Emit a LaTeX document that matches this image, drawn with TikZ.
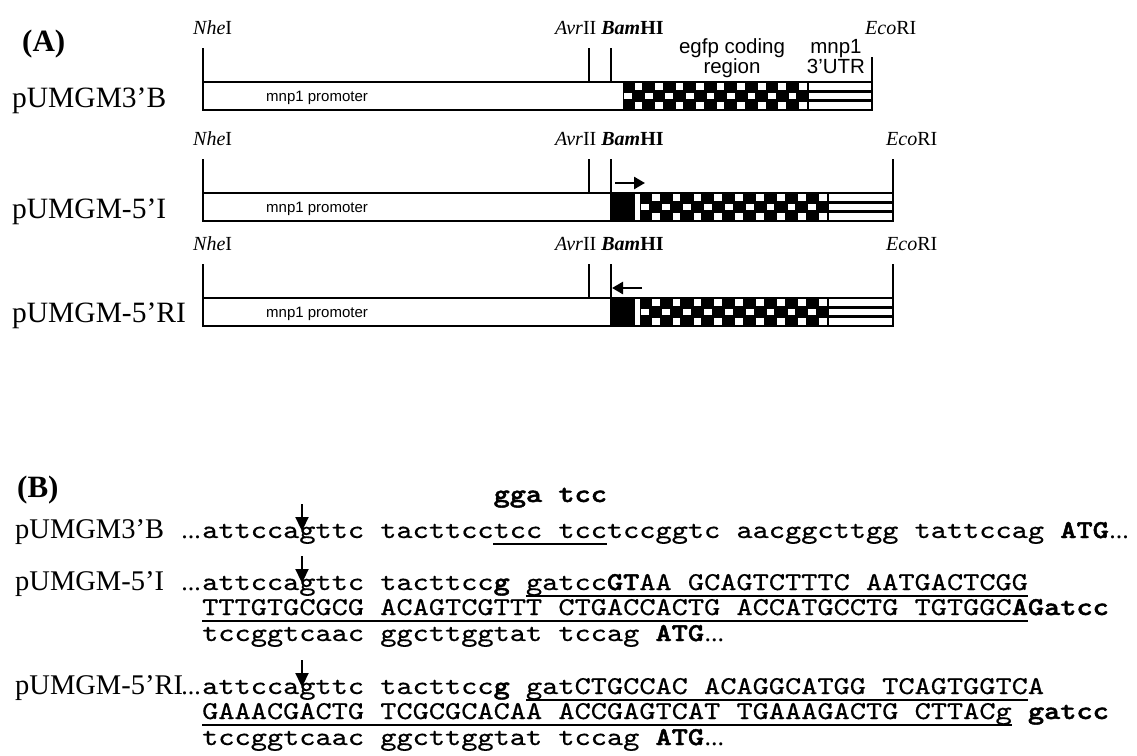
\documentclass[tikz,border=0pt]{standalone}
\usepackage{fontspec}
\setmainfont{Liberation Serif}
\setsansfont{Liberation Sans}
\newfontfamily\seqtt{lmmono10-regular.otf}[FakeBold=0.5, BoldFont=lmmonolt10-bold.otf, BoldFeatures={FakeBold=1.6}]
\usepackage{graphicx}
\usetikzlibrary{arrows.meta}
\newcommand{\seqfont}{\fontsize{25.7}{27}\selectfont\seqtt}
\newcommand{\sq}[1]{\scalebox{1.2}[1]{\seqfont #1}}
\newcommand{\checkerrow}[3]{%
  \pgfmathsetmacro{\ckw}{(#2-#1)/18}%
  \fill[black] (#1,#3) rectangle (#2,#3+28);
  \foreach \ci in {0,...,17}{%
    \foreach \cj in {0,1,2}{%
      \pgfmathtruncatemacro{\ckodd}{mod(\ci+\cj,2)}%
      \ifnum\ckodd=1
        \fill[white] ({#1+\ci*\ckw+1.3},{#3+\cj*28/3+1.3}) rectangle ++({\ckw-2.6},{28/3-2.6});
      \fi
    }%
  }%
}
\newcommand{\stripeblock}[3]{%
  \fill[white] (#1,#3) rectangle (#2,#3+28);
  \draw[line width=2.4pt] (#1,#3+28/3) -- (#2,#3+28/3) (#1,#3+56/3) -- (#2,#3+56/3);
  \draw[line width=1.8pt] (#1,#3) -- (#1,#3+28);
}
\tikzset{
  lbl/.style={anchor=base west, inner sep=0pt, font=\fontsize{29.5}{32}\selectfont},
  blbl/.style={anchor=base west, inner sep=0pt, font=\fontsize{28.5}{31}\selectfont},
  panel/.style={anchor=base west, inner sep=0pt, font=\fontsize{31}{33}\selectfont\bfseries},
  site/.style={anchor=base west, inner sep=0pt, font=\fontsize{20}{22}\selectfont},
  region/.style={anchor=base, inner sep=0pt, font=\fontsize{20.5}{22}\selectfont\sffamily},
  prom/.style={anchor=base west, inner sep=0pt, font=\fontsize{15}{17}\selectfont\sffamily},
  seq/.style={anchor=base west, inner sep=0pt},
  dots/.style={anchor=base west, inner sep=0pt, font=\fontsize{26}{28}\selectfont},
  boxline/.style={line width=1.8pt},
  siteline/.style={line width=1.8pt},
  uline/.style={line width=1.6pt},
  dirarrow/.style={line width=2.6pt, -{Triangle[length=11pt,width=12pt]}},
  cutarrow/.style={line width=2.2pt, -{Triangle[length=14pt,width=13pt]}},
}
\begin{document}
\begin{tikzpicture}[x=1pt,y=-1pt]
\useasboundingbox (0,0) rectangle (1137,755);
\pgfmathsetmacro{\chw}{0.525*25.7*1.2}
% ================= Panel A =================
\node[panel] (A) at (22,51) {(A)};
% ---- row 1 ----
\node[lbl] (r1) at (12,107) {pUMGM3’B};
\node[site] (nhe1) at (193,34) {\textit{Nhe}I};
\node[site] (avb1) at (555,34) {\textit{Avr}II \textbf{\textit{Bam}HI}};
\node[site] (eco1) at (865,34) {\textit{Eco}RI};
\node[region] (egfp) at (732,53) {egfp coding};
\node[region] (egfp2) at (732,73) {region};
\node[region] (utr) at (836,53) {mnp1};
\node[region] (utr2) at (836,73) {3’UTR};
\checkerrow{623}{808}{82}
\stripeblock{808}{872}{82}
\draw[boxline] (203,82) rectangle (872,110);
\draw[siteline] (203,48) -- (203,82) (589,48) -- (589,82) (611,48) -- (611,82) (872,57) -- (872,82);
\node[prom] (p1) at (266,101) {mnp1 promoter};
% ---- row 2 ----
\node[lbl] (r2) at (12,218) {pUMGM-5’I};
\node[site] (nhe2) at (193,145) {\textit{Nhe}I};
\node[site] (avb2) at (555,145) {\textit{Avr}II \textbf{\textit{Bam}HI}};
\node[site] (eco2) at (886,145) {\textit{Eco}RI};
\fill[black] (610,193) rectangle (635,221);
\checkerrow{640}{828}{193}
\stripeblock{828}{893}{193}
\draw[boxline] (203,193) rectangle (893,221);
\draw[siteline] (203,159) -- (203,193) (589,159) -- (589,193) (611,159) -- (611,193) (893,159) -- (893,193);
\draw[dirarrow] (615,183) -- (645,183);
\node[prom] (p2) at (266,212) {mnp1 promoter};
% ---- row 3 ----
\node[lbl] (r3) at (12,322) {pUMGM-5’RI};
\node[site] (nhe3) at (193,250) {\textit{Nhe}I};
\node[site] (avb3) at (555,250) {\textit{Avr}II \textbf{\textit{Bam}HI}};
\node[site] (eco3) at (886,250) {\textit{Eco}RI};
\fill[black] (610,298) rectangle (635,326);
\checkerrow{640}{828}{298}
\stripeblock{828}{893}{298}
\draw[boxline] (203,298) rectangle (893,326);
\draw[siteline] (203,264) -- (203,298) (589,264) -- (589,298) (611,264) -- (611,298) (893,264) -- (893,298);
\draw[dirarrow] (642,288) -- (612,288);
\node[prom] (p3) at (266,317) {mnp1 promoter};
% ================= Panel B =================
\node[panel] (B) at (17,497) {(B)};
\node[seq] (g0) at (202+18*\chw,502) {\sq{\textbf{gga tcc}}};
% line 1
\node[blbl] (n1) at (15,538) {pUMGM3’B};
\node[dots,anchor=base east] (d1) at (201,538) {...};
\node[seq] (s1) at (202,538) {\sq{attccagttc tacttcctcc tcctccggtc aacggcttgg tattccag \textbf{ATG}}};
\node[dots] (e1) at (s1.base east) {...};
\draw[uline] (202+18*\chw,544) -- (202+25*\chw,544);
\draw[cutarrow] (302,504) -- (302,531);
% line 2-4
\node[blbl] (n2) at (15,590) {pUMGM-5’I};
\node[dots,anchor=base east] (d2) at (201,590) {...};
\node[seq] (s2) at (202,590) {\sq{attccagttc tacttcc\textbf{g} gatcc\textbf{GT}AA GCAGTCTTTC AATGACTCGG}};
\draw[uline] (202+20*\chw,596) -- (202+51*\chw,596);
\draw[cutarrow] (302,556) -- (302,583);
\node[seq] (s3) at (202,615) {\sq{TTTGTGCGCG ACAGTCGTTT CTGACCACTG ACCATGCCTG TGTGGC\textbf{AGatcc}}};
\draw[uline] (202,621) -- (202+51*\chw,621);
\node[seq] (s4) at (202,641) {\sq{tccggtcaac ggcttggtat tccag \textbf{ATG}}};
\node[dots] (e4) at (s4.base east) {...};
% line 5-7
\node[blbl] (n5) at (15,694) {pUMGM-5’RI};
\node[dots,anchor=base east] (d5) at (201,694) {...};
\node[seq] (s5) at (202,694) {\sq{attccagttc tacttcc\textbf{g} gatCTGCCAC ACAGGCATGG TCAGTGGTCA}};
\draw[uline] (202+20*\chw,700) -- (202+51*\chw,700);
\draw[cutarrow] (302,660) -- (302,687);
\node[seq] (s6) at (202,719) {\sq{GAAACGACTG TCGCGCACAA ACCGAGTCAT TGAAAGACTG CTTACg \textbf{gatcc}}};
\draw[uline] (202,725) -- (202+50*\chw,725);
\node[seq] (s7) at (202,745) {\sq{tccggtcaac ggcttggtat tccag \textbf{ATG}}};
\node[dots] (e7) at (s7.base east) {...};
\end{tikzpicture}
\end{document}
